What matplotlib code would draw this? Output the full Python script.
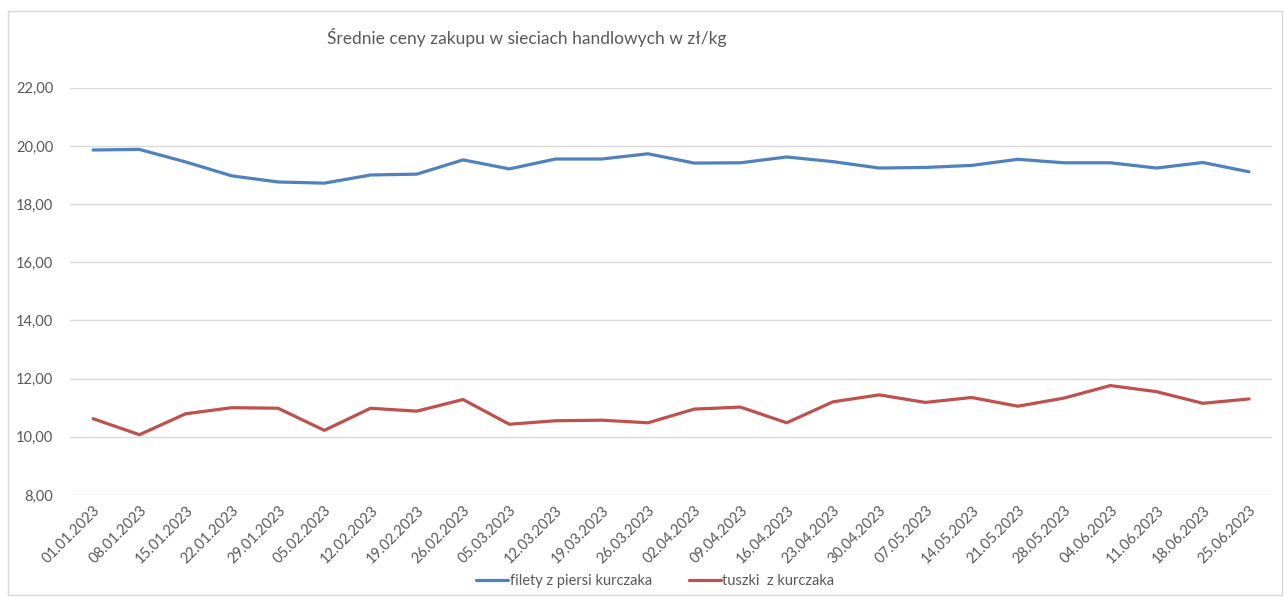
import matplotlib.pyplot as plt
from matplotlib.patches import Rectangle
from matplotlib.ticker import FuncFormatter

plt.rcParams['font.family'] = ['Lato', 'DejaVu Sans']

dates = ['01.01.2023', '08.01.2023', '15.01.2023', '22.01.2023', '29.01.2023',
         '05.02.2023', '12.02.2023', '19.02.2023', '26.02.2023', '05.03.2023',
         '12.03.2023', '19.03.2023', '26.03.2023', '02.04.2023', '09.04.2023',
         '16.04.2023', '23.04.2023', '30.04.2023', '07.05.2023', '14.05.2023',
         '21.05.2023', '28.05.2023', '04.06.2023', '11.06.2023', '18.06.2023',
         '25.06.2023']

filety = [19.86, 19.88, 19.45, 18.97, 18.76, 18.72, 19.00, 19.03, 19.52, 19.21,
          19.55, 19.55, 19.73, 19.41, 19.42, 19.62, 19.46, 19.24, 19.26, 19.33,
          19.54, 19.42, 19.42, 19.24, 19.43, 19.11]

tuszki = [10.62, 10.07, 10.79, 11.00, 10.98, 10.22, 10.98, 10.88, 11.28, 10.43,
          10.55, 10.57, 10.48, 10.95, 11.02, 10.48, 11.20, 11.44, 11.18, 11.35,
          11.05, 11.33, 11.76, 11.55, 11.15, 11.30]

txt = '#595959'

fig = plt.figure(figsize=(12.85, 5.97), dpi=100)
ax = fig.add_axes([0.0545, 0.171, 0.9355, 0.682])

x = range(len(dates))
ax.plot(x, filety, color='#4F81BD', lw=2.3, label='filety z piersi kurczaka',
        solid_joinstyle='round', solid_capstyle='round')
ax.plot(x, tuszki, color='#C0504D', lw=2.3, label='tuszki  z kurczaka',
        solid_joinstyle='round', solid_capstyle='round')

ax.set_xlim(-0.5, len(dates) - 0.5)
ax.set_ylim(8, 22)
ax.set_yticks(range(8, 23, 2))
ax.yaxis.set_major_formatter(FuncFormatter(lambda v, p: f'{v:.2f}'.replace('.', ',')))
ax.set_xticks(list(x))
ax.set_xticklabels(dates, rotation=45, ha='right', rotation_mode='anchor')

ax.grid(axis='y', color='#D9D9D9', lw=1)
ax.set_axisbelow(True)
for s in ax.spines.values():
    s.set_visible(False)
ax.tick_params(length=0, colors=txt, labelsize=10.5)
ax.tick_params(axis='y', pad=12)
ax.tick_params(axis='x', pad=6)

fig.text(0.41, 0.938, 'Średnie ceny zakupu w sieciach handlowych w zł/kg',
         ha='center', va='center', fontsize=12.5, color=txt)

leg = fig.legend(loc='center', bbox_to_anchor=(0.51, 0.027), ncol=2,
                 frameon=False, fontsize=10.5, handlelength=2.2,
                 handletextpad=0.1, columnspacing=2.5)
for t in leg.get_texts():
    t.set_color(txt)

fig.patches.append(Rectangle((0.006, 0.004), 0.992, 0.978, transform=fig.transFigure,
                             fill=False, edgecolor='#D9D9D9', lw=1))

fig.savefig('out.png', dpi=100)
